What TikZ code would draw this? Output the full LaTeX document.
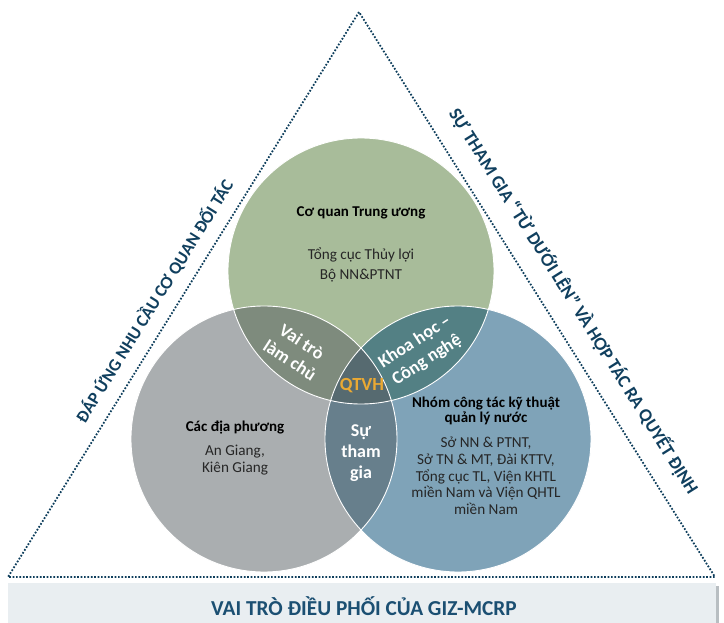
\documentclass[tikz,border=0pt]{standalone}
\usepackage{fontspec}
\setmainfont{Carlito}
\definecolor{cgreen}{HTML}{A8BC9A}
\definecolor{cgray}{HTML}{AAAEB0}
\definecolor{cblue}{HTML}{7FA3B8}
\definecolor{cgl}{HTML}{7E8B7D}
\definecolor{cgb}{HTML}{538084}
\definecolor{clb}{HTML}{677F8C}
\definecolor{cmid}{HTML}{566A70}
\definecolor{navy}{HTML}{103F5E}
\definecolor{dotc}{HTML}{0E3E5C}
\definecolor{titlec}{HTML}{1B4F72}
\definecolor{qtvh}{HTML}{EAA933}
\definecolor{barfill}{HTML}{E9EEF1}
\definecolor{shadowc}{HTML}{B8BEC2}
\tikzset{
  dotline/.style={dotc, line width=1.8pt, dash pattern=on 1.7pt off 1.7pt},
  sidetext/.style={text=navy, font=\fontsize{17.5}{20}\selectfont\bfseries, inner sep=0pt},
  headtext/.style={text=black, font=\fontsize{15}{16}\selectfont\bfseries, align=center, inner sep=0pt},
  bodytext/.style={text=black!85, font=\fontsize{15.2}{16.7}\selectfont, align=center, inner sep=0pt},
  lenstext/.style={text=white, font=\fontsize{18}{21}\selectfont\bfseries, align=center, inner sep=0pt},
  rim/.style={white, line width=0.9pt}
}
\begin{document}
\begin{tikzpicture}[x=1pt,y=-1pt]
\useasboundingbox (0,0) rectangle (724,623);
% triangle corners
\coordinate (A) at (359,12);
\coordinate (B) at (8,577);
\coordinate (C) at (715,577);
% circle centres
\coordinate (g) at (361,271);
\coordinate (l) at (264,439);
\coordinate (b) at (458,439);
\def\rr{133pt}
% circles
\fill[cgreen] (g) circle[radius=\rr];
\fill[cgray] (l) circle[radius=\rr];
\fill[cblue] (b) circle[radius=\rr];
\begin{scope}
  \clip (g) circle[radius=\rr];
  \fill[cgl] (l) circle[radius=\rr];
  \fill[cgb] (b) circle[radius=\rr];
\end{scope}
\begin{scope}
  \clip (l) circle[radius=\rr];
  \fill[clb] (b) circle[radius=\rr];
\end{scope}
\begin{scope}
  \clip (g) circle[radius=\rr];
  \clip (l) circle[radius=\rr];
  \fill[cmid] (b) circle[radius=\rr];
\end{scope}
\draw[rim] (g) circle[radius=\rr];
\draw[rim] (l) circle[radius=\rr];
\draw[rim] (b) circle[radius=\rr];
% dotted triangle
\draw[dotline] (A) -- (B) -- (C) -- cycle;
% side texts
\node[sidetext, rotate=58.1] (lefttxt) at (154,301) {ĐÁP ỨNG NHU CẦU CƠ QUAN ĐỐI TÁC};
\node[sidetext, rotate=-57.8, font=\fontsize{18.3}{20}\selectfont\bfseries] (righttxt) at (574,301) {SỰ THAM GIA “TỪ DƯỚI LÊN” VÀ HỢP TÁC RA QUYẾT ĐỊNH};
% bottom bar
\fill[shadowc] (11,586) rectangle (719,626);
\fill[barfill] (8,583) rectangle (716,626);
\node[text=titlec, font=\fontsize{21.3}{24}\selectfont\bfseries, inner sep=0pt] (bar) at (364,606) {VAI TRÒ ĐIỀU PHỐI CỦA GIZ-MCRP};
% circle texts
\node[headtext] (gh) at (361,213) {Cơ quan Trung ương};
\node[bodytext] (gb1) at (361,255) {Tổng cục Thủy lợi};
\node[bodytext] (gb2) at (361,276) {Bộ NN\&PTNT};
\node[headtext] (lh) at (235,428) {Các địa phương};
\node[bodytext] (lb) at (235,460) {An Giang,\\Kiên Giang};
\node[headtext, font=\fontsize{15}{14.5}\selectfont\bfseries] (bh) at (486,411) {Nhóm công tác kỹ thuật\\quản lý nước};
\node[bodytext] (bb) at (486,476) {Sở NN \& PTNT,\\Sở TN \& MT, Đài KTTV,\\Tổng cục TL, Viện KHTL\\miền Nam và Viện QHTL\\miền Nam};
% lens texts
\node[lenstext, rotate=-33, font=\fontsize{18}{22}\selectfont\bfseries] (lens1) at (296,351) {Vai trò\\làm chủ};
\node[lenstext, rotate=33, font=\fontsize{18}{22}\selectfont\bfseries] (lens2) at (421,351) {Khoa học –\\Công nghệ};
\node[lenstext] (lens3) at (361,453) {Sự\\tham\\gia};
\node[text=qtvh, font=\fontsize{18.5}{20}\selectfont\bfseries, inner sep=0pt] (mid) at (362,386) {QTVH};
\end{tikzpicture}
\end{document}
